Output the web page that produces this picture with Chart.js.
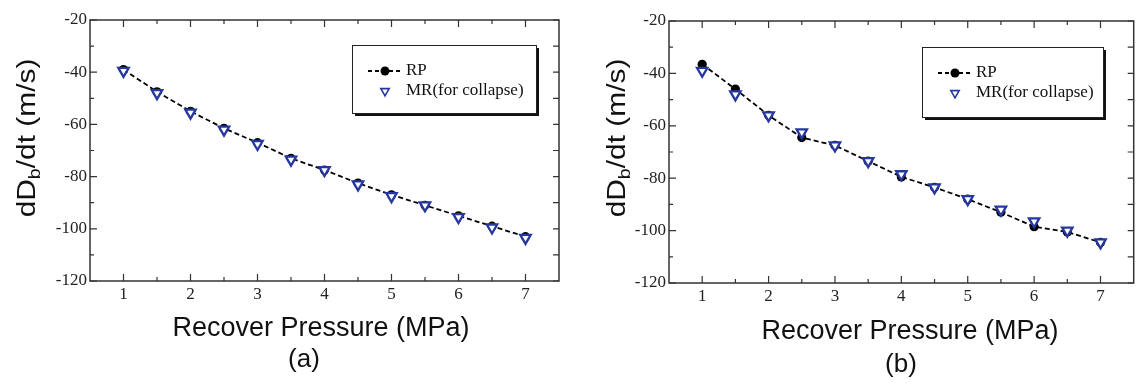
<!DOCTYPE html>
<html><head><meta charset="utf-8">
<script src="https://cdn.jsdelivr.net/npm/chart.js@4/dist/chart.umd.min.js"></script>
<style>
html,body{margin:0;padding:0;background:#fff;}
#wrap{position:relative;width:1142px;height:383px;overflow:hidden;}
canvas{position:absolute;top:0;}
#ca{left:0;} #cb{left:571px;}
</style></head><body>
<div id="wrap"><canvas id="ca" width="571" height="383"></canvas><canvas id="cb" width="571" height="383"></canvas></div>
<script>
// ---- data ----
const pressure = [1, 1.5, 2, 2.5, 3, 3.5, 4, 4.5, 5, 5.5, 6, 6.5, 7];
const rpA = [-39, -47.5, -55, -61.5, -67, -73, -77.5, -82.5, -87, -91, -95, -99, -103];
const mrA = [-39.5, -48, -55.5, -62, -67.5, -73.5, -77.5, -83, -87.5, -91, -95.5, -99.5, -103.5];
const rpB = [-36.5, -46, -56, -64.5, -67.5, -73.5, -79.5, -83.5, -88, -93, -98.5, -100.5, -104.5];
const mrB = [-39, -48, -56, -62.5, -67.5, -73.5, -78.5, -83.5, -88, -92, -96.5, -100, -104.5];
const xTickValues = [1, 2, 3, 4, 5, 6, 7];
const yTickValues = [-120, -100, -80, -60, -40, -20];
const seriesLabels = ['RP', 'MR(for collapse)'];
const xTitle = 'Recover Pressure (MPa)';
const yTitleParts = ['dD', 'b', '/dt (m/s)'];
const panelLabels = ['(a)', '(b)'];

const BLUE = '#26389e';

const framePlugin = {
  id: 'frame',
  afterDraw(chart) {
    const {ctx, chartArea: a, scales: {x, y}} = chart;
    ctx.save();
    ctx.strokeStyle = '#333';
    ctx.lineWidth = 1.5;
    ctx.strokeRect(a.left, a.top, a.right - a.left, a.bottom - a.top);
    ctx.lineWidth = 1.2;
    const xt = [];
    xTickValues.forEach((v, i) => {
      xt.push([v, 7]);
      if (i < xTickValues.length - 1) xt.push([(v + xTickValues[i + 1]) / 2, 4]);
    });
    xt.forEach(([v, len]) => {
      const px = x.getPixelForValue(v);
      ctx.beginPath();
      ctx.moveTo(px, a.bottom); ctx.lineTo(px, a.bottom - len);
      ctx.moveTo(px, a.top); ctx.lineTo(px, a.top + len);
      ctx.stroke();
    });
    const yt = [];
    yTickValues.forEach((v, i) => {
      yt.push([v, 7]);
      if (i < yTickValues.length - 1) yt.push([(v + yTickValues[i + 1]) / 2, 4]);
    });
    yt.forEach(([v, len]) => {
      const py = y.getPixelForValue(v);
      ctx.beginPath();
      ctx.moveTo(a.left, py); ctx.lineTo(a.left + len, py);
      ctx.moveTo(a.right, py); ctx.lineTo(a.right - 6, py);
      ctx.stroke();
    });
    ctx.restore();
  }
};

const decorPlugin = {
  id: 'decor',
  afterDraw(chart, args, o) {
    const ctx = chart.ctx;
    ctx.save();
    // legend box with shadow
    const L = o.box[0], T = o.box[1], W = o.box[2], H = o.box[3];
    ctx.fillStyle = '#111';
    ctx.fillRect(L + 3, T + 3, W, H);
    ctx.fillStyle = '#fff';
    ctx.fillRect(L, T, W, H);
    ctx.strokeStyle = '#222';
    ctx.lineWidth = 1;
    ctx.strokeRect(L + 0.5, T + 0.5, W, H);
    const r1 = T + 26, r2 = T + 46;
    ctx.strokeStyle = '#000';
    ctx.lineWidth = 1.8;
    ctx.setLineDash([4, 3]);
    ctx.beginPath(); ctx.moveTo(L + 16, r1); ctx.lineTo(L + 51, r1); ctx.stroke();
    ctx.setLineDash([]);
    ctx.fillStyle = '#000';
    ctx.beginPath(); ctx.arc(L + 33, r1, 4.5, 0, Math.PI * 2); ctx.fill();
    const tx = L + 33, ty = r2, tr = 4.8;
    ctx.beginPath();
    ctx.moveTo(tx, ty + tr);
    ctx.lineTo(tx - tr * 0.866, ty - tr * 0.5);
    ctx.lineTo(tx + tr * 0.866, ty - tr * 0.5);
    ctx.closePath();
    ctx.fillStyle = '#fff'; ctx.fill();
    ctx.strokeStyle = BLUE; ctx.lineWidth = 1.6; ctx.stroke();
    ctx.fillStyle = '#111';
    ctx.font = '17px "Liberation Serif"';
    ctx.textBaseline = 'middle';
    ctx.textAlign = 'left';
    ctx.fillText(seriesLabels[0], L + 54, r1);
    ctx.fillText(seriesLabels[1], L + 54, r2);

    ctx.fillStyle = '#111';
    ctx.font = '27px "Liberation Sans"';
    ctx.textAlign = 'center';
    ctx.textBaseline = 'alphabetic';
    ctx.fillText(xTitle, o.xTitle[0], o.xTitle[1]);
    ctx.font = '26px "Liberation Sans"';
    ctx.fillText(o.panel, o.panelPos[0], o.panelPos[1]);

    ctx.save();
    ctx.translate(o.yTitle[0], o.yTitle[1]);
    ctx.rotate(-Math.PI / 2);
    ctx.scale(1.15, 1);
    const fMain = '26px "Liberation Sans"', fSub = '17px "Liberation Sans"';
    const parts = [[yTitleParts[0], fMain, 0], [yTitleParts[1], fSub, 5], [yTitleParts[2], fMain, 0]];
    let total = 0;
    parts.forEach(p => { ctx.font = p[1]; p.push(ctx.measureText(p[0]).width); total += p[3]; });
    let cx = -total / 2;
    ctx.textAlign = 'left';
    parts.forEach(p => { ctx.font = p[1]; ctx.fillText(p[0], cx, p[2]); cx += p[3]; });
    ctx.restore();
    ctx.restore();
  }
};

function makeChart(id, rp, mr, lay) {
  const W = 571, H = 383;
  return new Chart(document.getElementById(id), {
    type: 'line',
    data: {
      datasets: [
        {
          label: seriesLabels[1],
          data: pressure.map((p, i) => ({x: p, y: mr[i]})),
          showLine: false,
          pointStyle: 'triangle',
          rotation: 180,
          pointRadius: 6,
          pointBorderWidth: 2.3,
          pointBorderColor: BLUE,
          pointBackgroundColor: '#fff',
          order: 0
        },
        {
          label: seriesLabels[0],
          data: pressure.map((p, i) => ({x: p, y: rp[i]})),
          borderColor: '#000',
          borderWidth: 1.8,
          borderDash: [5, 3],
          tension: 0,
          pointRadius: 4.6,
          pointBackgroundColor: '#000',
          pointBorderColor: '#000',
          pointBorderWidth: 0,
          order: 1
        }
      ]
    },
    options: {
      responsive: false,
      animation: false,
      devicePixelRatio: 1,
      layout: {padding: {left: 0, top: lay.area.top, right: W - lay.area.right, bottom: 0}},
      plugins: {
        legend: {display: false},
        tooltip: {enabled: false},
        decor: {box: lay.box, xTitle: lay.xTitle, yTitle: lay.yTitle, panel: lay.panel, panelPos: lay.panelPos}
      },
      scales: {
        x: {
          type: 'linear',
          min: 0.5, max: 7.5,
          grid: {display: false, drawTicks: false},
          border: {display: false},
          afterBuildTicks: s => { s.ticks = xTickValues.map(v => ({value: v})); },
          afterFit: s => { s.height = H - lay.area.bottom; },
          ticks: {padding: 3, color: '#222', font: {family: '"Liberation Serif"', size: 17}, maxRotation: 0, autoSkip: false}
        },
        y: {
          type: 'linear',
          min: -120, max: -20,
          grid: {display: false, drawTicks: false},
          border: {display: false},
          afterBuildTicks: s => { s.ticks = yTickValues.map(v => ({value: v})); },
          afterFit: s => { s.width = lay.area.left; },
          ticks: {padding: 3, color: '#222', font: {family: '"Liberation Serif"', size: 17}}
        }
      }
    },
    plugins: [framePlugin, decorPlugin]
  });
}

makeChart('ca', rpA, mrA, {
  area: {left: 90, right: 559, top: 20, bottom: 281},
  box: [352, 45, 184, 68],
  xTitle: [321, 336],
  yTitle: [35, 138],
  panel: panelLabels[0],
  panelPos: [304, 367]
});
makeChart('cb', rpB, mrB, {
  area: {left: 98, right: 568, top: 21, bottom: 283},
  box: [351, 47, 181, 70],
  xTitle: [339, 339],
  yTitle: [54, 138],
  panel: panelLabels[1],
  panelPos: [330, 372]
});
</script>
</body></html>
